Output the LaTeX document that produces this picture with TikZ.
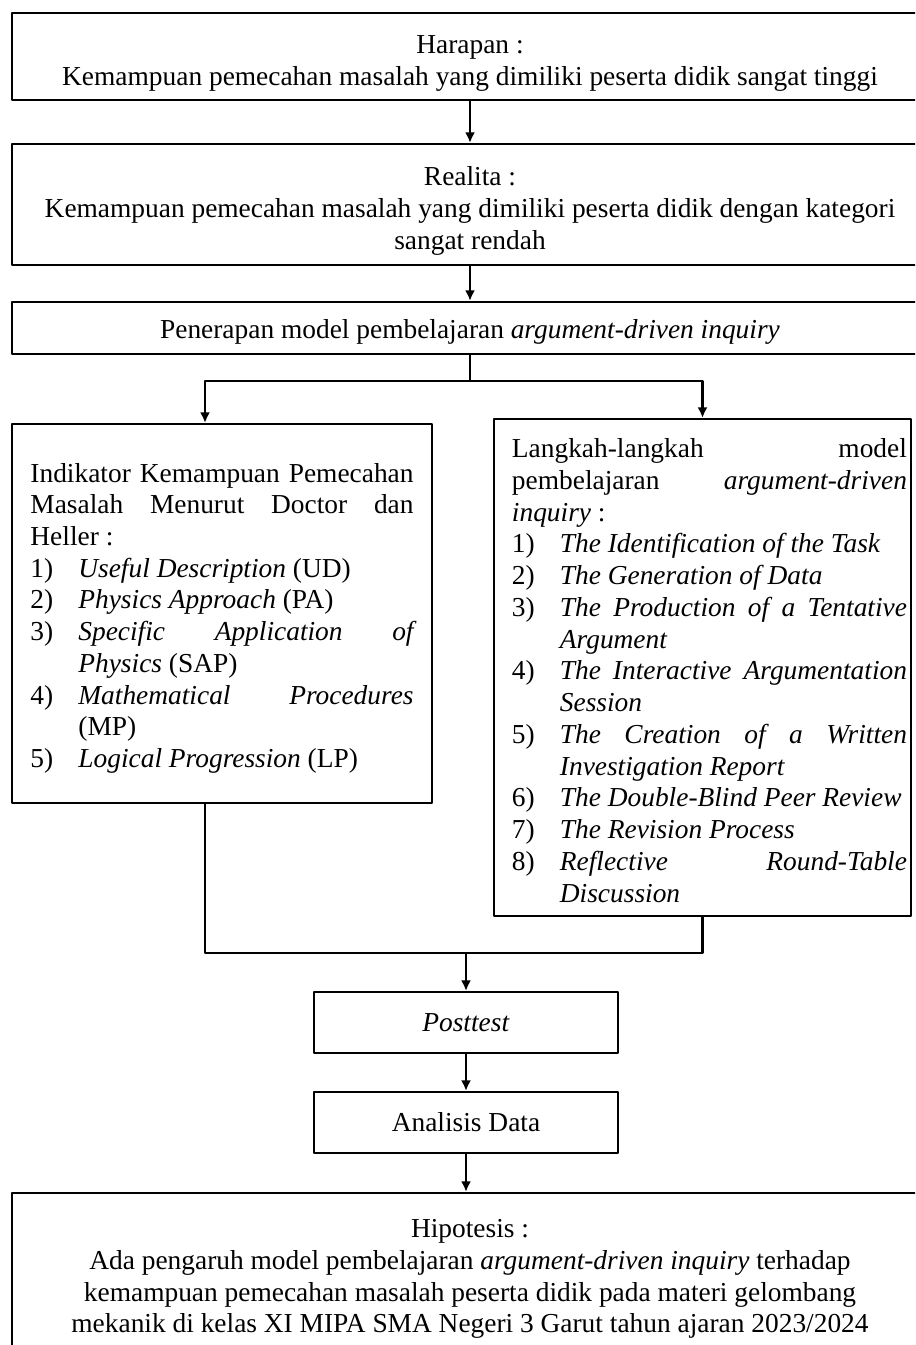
\documentclass[tikz,border=0pt]{standalone}
\usepackage{fontspec}
\setmainfont{Liberation Serif}
\usetikzlibrary{arrows.meta}
\setlength{\parindent}{0pt}
\tolerance=10000 \hbadness=10000
% butir daftar bernomor
\newcommand{\butir}[2]{\par\noindent\hangindent=21pt\hangafter=1\makebox[21pt][l]{#1}#2}

\begin{document}
\begin{tikzpicture}[x=0.438pt, y=-0.438pt, >={Latex[length=4.6pt,width=4.4pt]}, line join=round,
	font=\fontsize{12}{13.9}\selectfont,
	kotak/.style={draw, line width=1pt, align=center, inner sep=2pt},
	lebar/.style={kotak, minimum width=401.2pt},
	kecil/.style={kotak, minimum width=133.2pt, minimum height=26.7pt},
	panah/.style={->, line width=0.9pt}]
	\useasboundingbox (0,0) rectangle (915,1345);
	\clip (0,0) rectangle (915,1345);
	\node[lebar, minimum height=38.1pt] (harapan) at (470,56.5) {\rule{0pt}{14pt}Harapan :\\ Kemampuan pemecahan masalah yang dimiliki peserta didik sangat tinggi};
	\node[lebar, minimum height=53pt] (realita) at (470,204.5) {\rule{0pt}{14pt}Realita :\\ Kemampuan pemecahan masalah yang dimiliki peserta didik dengan kategori\\ sangat rendah};
	\node[lebar, minimum height=22.8pt] (penerapan) at (470,328) {\rule{0pt}{11.5pt}Penerapan model pembelajaran \textit{argument-driven inquiry}};
	\node[kotak, align=justify, text width=167.8pt, inner xsep=8.1pt, minimum height=166pt] (indikator) at (222,613.5) {\rule{0pt}{12.5pt}Indikator Kemampuan Pemecahan\linebreak Masalah Menurut Doctor dan\linebreak Heller :
		\butir{1)}{\textit{Useful Description} (UD)}
		\butir{2)}{\textit{Physics Approach} (PA)}
		\butir{3)}{\textit{Specific Application of\linebreak Physics} (SAP)}
		\butir{4)}{\textit{Mathematical Procedures}\linebreak (MP)}
		\butir{5)}{\textit{Logical Progression} (LP)}\par};
	\node[kotak, align=justify, text width=179.1pt, inner xsep=1.75pt, minimum height=217.7pt] (langkah) at (702.5,667.5) {\leftskip=6.1pt \rule{0pt}{11pt}Langkah-langkah model\linebreak pembelajaran \textit{argument-driven}\linebreak \textit{inquiry} :
		\butir{1)}{\textit{The Identification of the Task}}
		\butir{2)}{\textit{The Generation of Data}}
		\butir{3)}{\textit{The Production of a Tentative\linebreak Argument}}
		\butir{4)}{\textit{The Interactive Argumentation\linebreak Session}}
		\butir{5)}{\textit{The Creation of a Written\linebreak Investigation Report}}
		\butir{6)}{\textit{The Double-Blind Peer Review}}
		\butir{7)}{\textit{The Revision Process}}
		\butir{8)}{\textit{Reflective Round-Table\linebreak Discussion}}\par};
	\node[kecil] (posttest) at (466,1022.5) {\textit{Posttest}};
	\node[kecil] (analisis) at (466,1122.5) {Analisis Data};
	\node[lebar, minimum height=71pt] (hipotesis) at (470,1274) {\rule{0pt}{12.5pt}Hipotesis :\\ Ada pengaruh model pembelajaran \textit{argument-driven inquiry} terhadap\\ kemampuan pemecahan masalah peserta didik pada materi gelombang\\ mekanik di kelas XI MIPA SMA Negeri 3 Garut tahun ajaran 2023/2024};
	% percabangan dan penggabungan
	\coordinate (cabang) at (470,381);
	\coordinate (kiri) at (205,381);
	\coordinate (gabung) at (466,953);
	\draw[panah] (harapan) -- (realita);
	\draw[panah] (realita) -- (penerapan);
	\draw[line width=0.9pt] (penerapan.south) -- (cabang);
	\draw[panah] (cabang) -| (indikator.north -| kiri);
	\draw[panah] (cabang) -| (langkah.north);
	\draw[line width=0.9pt] (indikator.south -| kiri) |- (gabung) -| (langkah.south);
	\draw[panah] (gabung) -- (posttest);
	\draw[panah] (posttest) -- (analisis);
	\draw[panah] (analisis) -- (analisis.south |- hipotesis.north);
\end{tikzpicture}
\end{document}
